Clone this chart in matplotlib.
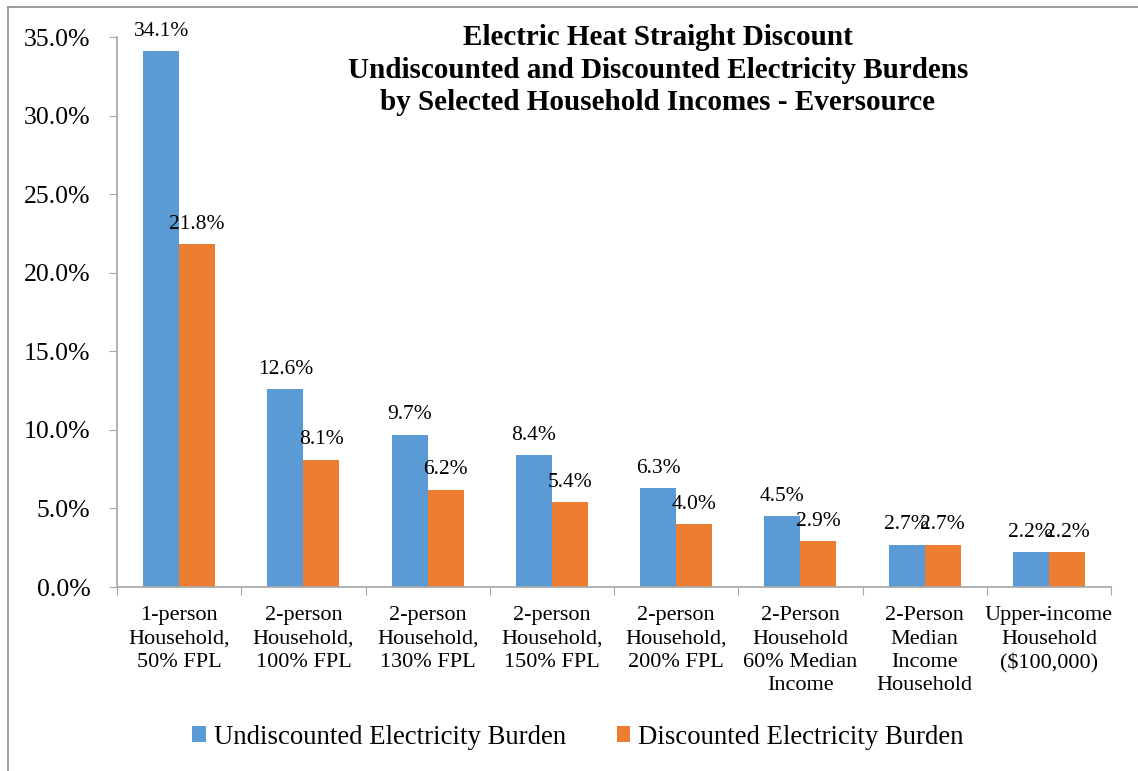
import matplotlib
matplotlib.use("Agg")
import matplotlib.pyplot as plt
from matplotlib.lines import Line2D
from matplotlib.ticker import FuncFormatter, FixedLocator

plt.rcParams["font.family"] = ["Liberation Serif", "DejaVu Serif"]

categories = [
    "1-person\nHousehold,\n50% FPL",
    "2-person\nHousehold,\n100% FPL",
    "2-person\nHousehold,\n130% FPL",
    "2-person\nHousehold,\n150% FPL",
    "2-person\nHousehold,\n200% FPL",
    "2-Person\nHousehold\n60% Median\nIncome",
    "2-Person\nMedian\nIncome\nHousehold",
    "Upper-income\nHousehold\n($100,000)",
]
undiscounted = [34.1, 12.6, 9.7, 8.4, 6.3, 4.5, 2.7, 2.2]
discounted = [21.8, 8.1, 6.2, 5.4, 4.0, 2.9, 2.7, 2.2]
series_names = ["Undiscounted Electricity Burden", "Discounted Electricity Burden"]
y_ticks = [0, 5, 10, 15, 20, 25, 30, 35]

blue = "#5B9BD5"
orange = "#ED7D31"
axis_gray = "#A6A6A6"

W, H = 1138, 771
fig = plt.figure(figsize=(W / 100, H / 100), dpi=100)

# chart-area frame: only its top and left edges lie inside the image
frame_kw = dict(transform=fig.transFigure, color="#8C8C8C", linewidth=1.2)
fig.lines.append(Line2D([8 / W, 1.0], [1 - 7 / H, 1 - 7 / H], **frame_kw))
fig.lines.append(Line2D([8 / W, 8 / W], [0.0, 1 - 7 / H], **frame_kw))

ax = fig.add_axes([117 / W, 1 - 587 / H, (1111 - 117) / W, (587 - 37) / H])

n = len(categories)
centers = [i + 0.5 for i in range(n)]
bw = 0.29
b1 = ax.bar([c - bw / 2 for c in centers], undiscounted, width=bw,
            color=blue, label=series_names[0])
b2 = ax.bar([c + bw / 2 for c in centers], discounted, width=bw,
            color=orange, label=series_names[1])

for bars, vals in ((b1, undiscounted), (b2, discounted)):
    for rect, v in zip(bars, vals):
        ax.annotate(f"{v:.1f}%", (rect.get_x() + rect.get_width() / 2, v),
                    xytext=(0, 7.5), textcoords="offset points",
                    ha="center", va="bottom", fontsize=15.5, color="black")

ax.set_xlim(0, n)
ax.set_ylim(0, 35)
ax.set_yticks(y_ticks)
ax.yaxis.set_major_formatter(FuncFormatter(lambda v, p: f"{v:.1f}%"))
ax.tick_params(axis="y", labelsize=18.5, length=6, color=axis_gray,
               direction="out", pad=13)

ax.xaxis.set_major_locator(FixedLocator(list(range(n + 1))))
ax.set_xticklabels([""] * (n + 1))
ax.xaxis.set_minor_locator(FixedLocator(centers))
ax.set_xticklabels(categories, minor=True)
ax.tick_params(axis="x", which="major", length=6, color=axis_gray)
ax.tick_params(axis="x", which="minor", length=0, labelsize=16, pad=14)
for lbl in ax.get_xticklabels(minor=True):
    lbl.set_linespacing(1.3)

for s in ("top", "right"):
    ax.spines[s].set_visible(False)
for s in ("left", "bottom"):
    ax.spines[s].set_color(axis_gray)
    ax.spines[s].set_linewidth(1.2)

fig.text(658 / W, 1 - 70 / H,
         "Electric Heat Straight Discount\n"
         "Undiscounted and Discounted Electricity Burdens\n"
         "by Selected Household Incomes - Eversource",
         ha="center", va="center", fontsize=21, fontweight="bold",
         linespacing=1.28)

fig.legend(handles=[b1, b2], labels=series_names, loc="center",
           bbox_to_anchor=(578 / W, 1 - 737 / H), ncol=2, frameon=False,
           fontsize=19.3, handlelength=0.5, handleheight=0.5,
           handletextpad=0.3, columnspacing=1.9)

fig.savefig("out.png", dpi=100)
